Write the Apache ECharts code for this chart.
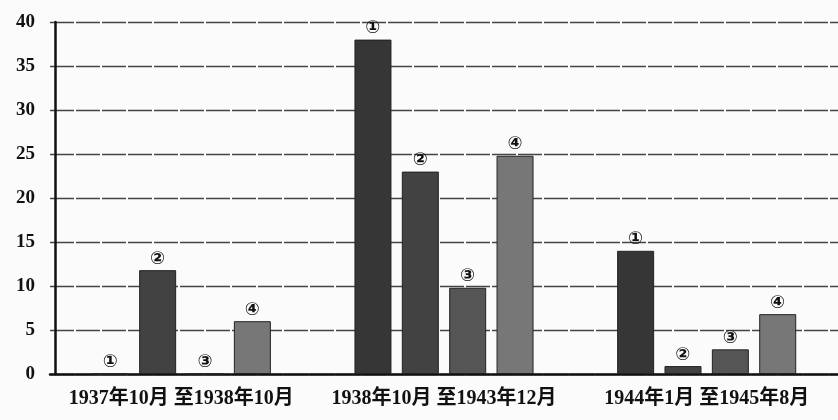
<!DOCTYPE html>
<html><head><meta charset="utf-8">
<script src="https://cdn.jsdelivr.net/npm/echarts@6/dist/echarts.min.js"></script>
<style>html,body{margin:0;padding:0;background:#fbfbfb}#c{width:838px;height:420px}</style>
</head><body><div id="c"></div>
<script>
const categories = ['1937年10月 至1938年10月', '1938年10月 至1943年12月', '1944年1月 至1945年8月'];
const seriesNames = ['①', '②', '③', '④'];
const s1 = [0, 38, 14];
const s2 = [11.8, 23, 0.9];
const s3 = [0, 9.8, 2.8];
const s4 = [6, 24.8, 6.8];
const yTicks = [0, 5, 10, 15, 20, 25, 30, 35, 40];

const colors = ['#363636', '#424242', '#555555', '#777777'];
const values = [s1, s2, s3, s4];
const font = '"Liberation Serif", "DejaVu Serif", "Noto Sans CJK SC", serif';

const chart = echarts.init(document.getElementById('c'));
chart.setOption({
  backgroundColor: '#fbfbfb',
  animation: false,
  grid: { left: 50, right: 0, top: 22, bottom: 46 },
  xAxis: {
    type: 'category',
    data: categories,
    axisLine: { lineStyle: { color: '#111', width: 2.5 } },
    axisTick: { show: false },
    axisLabel: { interval: 0, hideOverlap: false, color: '#111', fontSize: 20, fontWeight: 'bold', fontFamily: font, margin: 15 }
  },
  yAxis: {
    type: 'value',
    min: yTicks[0], max: yTicks[yTicks.length - 1], interval: 5,
    offset: -5,
    axisLine: { show: true, lineStyle: { color: '#111', width: 2.5 } },
    axisTick: { show: false },
    axisLabel: { color: '#111', fontSize: 19, fontWeight: 'bold', fontFamily: font, margin: 20 },
    splitLine: { lineStyle: { color: '#444', width: 1.3, type: [24, 2] } }
  },
  series: values.map((v, i) => ({
    name: seriesNames[i],
    type: 'bar',
    data: v,
    barWidth: 37,
    barGap: '28%',
    itemStyle: { color: colors[i], borderColor: '#222', borderWidth: 1 },
    label: {
      show: true, position: 'top', distance: 2,
      formatter: () => seriesNames[i],
      color: '#111', fontSize: 18, fontWeight: 'bold', fontFamily: '"DejaVu Sans", "Noto Sans CJK SC", sans-serif'
    }
  }))
});
</script></body></html>
